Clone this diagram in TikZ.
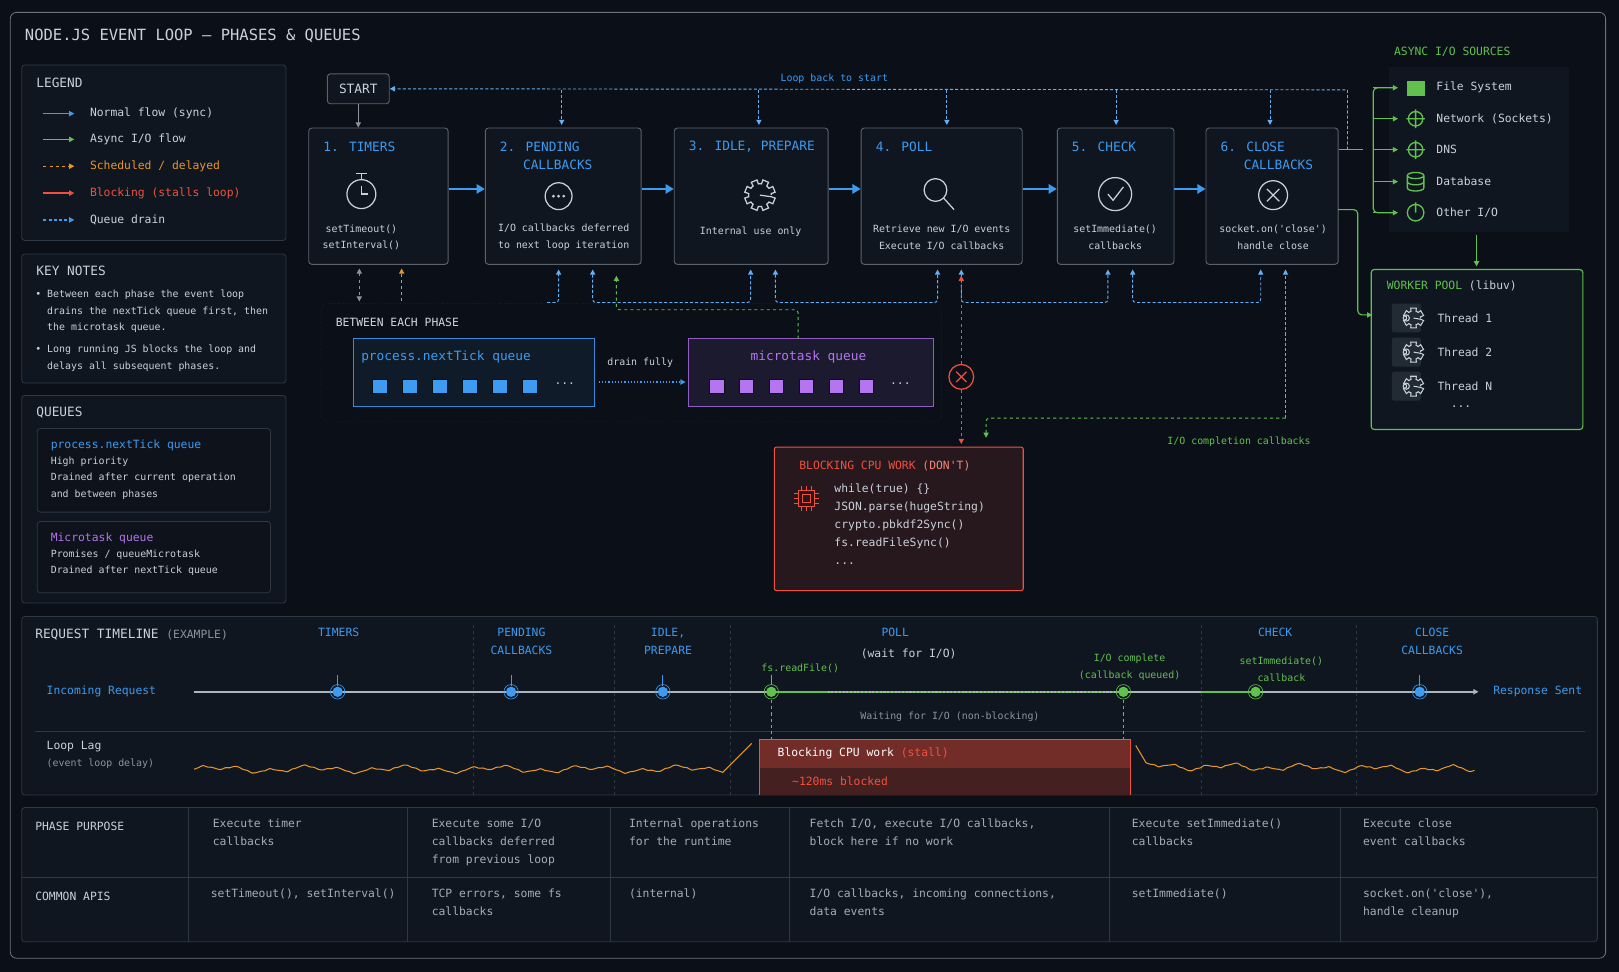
\documentclass[tikz,border=0pt]{standalone}
\usepackage{fontspec}
\setmainfont{DejaVu Sans Mono}
\usetikzlibrary{arrows.meta,positioning}
\definecolor{bg}{HTML}{0B1018}
\definecolor{panel}{HTML}{0F1620}
\definecolor{edge}{HTML}{2E3742}
\definecolor{pedge}{HTML}{5A626C}
\definecolor{txt}{HTML}{C9D1D9}
\definecolor{dim}{HTML}{8B949E}
\definecolor{blu}{HTML}{3D9BF0}
\definecolor{grn}{HTML}{62C04E}
\definecolor{org}{HTML}{E8962A}
\definecolor{rd}{HTML}{F0513E}
\definecolor{pur}{HTML}{B574F0}
\newcommand{\fa}{\fontsize{9.6}{16}\selectfont}
\newcommand{\fb}{\fontsize{11}{17.5}\selectfont}
\newcommand{\fc}{\fontsize{12.4}{18}\selectfont}
\newcommand{\ft}{\fontsize{15}{18}\selectfont}
\newcommand{\q}{\textquotesingle}
\tikzset{
  t/.style={anchor=west,inner sep=0pt,text=txt,font=\fb},
  tc/.style={inner sep=0pt,text=txt,font=\fa,align=center},
  box/.style={draw=edge,fill=panel,rounded corners=3pt,line width=0.8pt},
  phase/.style={draw=pedge,fill=panel,rounded corners=3pt,line width=0.9pt,
    minimum height=132pt},
  ptitle/.style={anchor=west,inner sep=0pt,text=blu,font=\fc,align=left},
  flow/.style={blu,line width=2.5pt,-{Triangle[length=8pt,width=9pt]}},
  drain/.style={blu!80!white,dashed,line width=0.9pt,dash pattern=on 3pt off 2pt},
  tip/.style={-{Triangle[length=5pt,width=5pt]}},
  icon/.style={txt,line width=1.2pt},
  sq/.style={minimum size=14pt,inner sep=0pt,draw=bg,line width=0.6pt},
  gicon/.style={grn,line width=1.3pt}
}
\begin{document}
\begin{tikzpicture}[x=1pt,y=-1pt]
\fill[bg] (0,0) rectangle (1568,941);
\useasboundingbox (0,0) rectangle (1568,941);
\draw[edge!70,rounded corners=6pt,line width=0.8pt] (10,12) rectangle (1555,928);
\node[t,font=\ft] (title) at (24,35) {NODE.JS EVENT LOOP – PHASES \& QUEUES};

% legend
\draw[box] (21,63) rectangle (277,233);
\node[t,font=\fc] (leg) at (35,80) {LEGEND};
\draw[blu,line width=1.2pt,tip] (42,110) -- (72,110);
\node[t] at (87,110) {Normal flow (sync)};
\draw[grn,line width=1.2pt,tip] (42,135) -- (72,135);
\node[t] at (87,135) {Async I/O flow};
\draw[org,line width=1.2pt,dashed,tip] (42,161) -- (72,161);
\node[t,text=org] at (87,161) {Scheduled / delayed};
\draw[rd,line width=1.2pt,tip] (42,187) -- (72,187);
\node[t,text=rd] at (87,187) {Blocking (stalls loop)};
\draw[blu,line width=1.2pt,dash pattern=on 3pt off 2pt,tip] (42,213) -- (72,213);
\node[t] at (87,213) {Queue drain};

% key notes
\draw[box] (21,246) rectangle (277,371);
\node[t,font=\fc] at (35,262) {KEY NOTES};
\node[t,font=\fa,anchor=north west,align=left] at (34,281) {• Between each phase the event loop\\\ \ drains the nextTick queue first, then\\\ \ the microtask queue.};
\node[t,font=\fa,anchor=north west,align=left] at (34,334) {• Long running JS blocks the loop and\\\ \ delays all subsequent phases.};

% queues
\draw[box] (21,383) rectangle (277,584);
\node[t,font=\fc] at (35,400) {QUEUES};
\draw[box,fill=bg!60!panel] (36,415) rectangle (262,496);
\node[t,text=blu] at (49,431) {process.nextTick queue};
\node[t,font=\fa,anchor=north west,align=left] at (49,442) {High priority\\Drained after current operation\\and between phases};
\draw[box,fill=bg!60!panel] (36,505) rectangle (262,574);
\node[t,text=pur] at (49,521) {Microtask queue};
\node[t,font=\fa,anchor=north west,align=left] at (49,532) {Promises / queueMicrotask\\Drained after nextTick queue};

% phases
\node[draw=pedge,fill=panel,rounded corners=3pt,line width=0.9pt,text=txt,font=\fc,
  minimum width=60pt,minimum height=29pt] (start) at (347,86) {START};
\node[phase,minimum width=135pt] (p1) at (366.5,190) {};
\node[phase,minimum width=151pt] (p2) at (545.5,190) {};
\node[phase,minimum width=149pt] (p3) at (727.5,190) {};
\node[phase,minimum width=156pt] (p4) at (912,190) {};
\node[phase,minimum width=113pt] (p5) at (1080.5,190) {};
\node[phase,minimum width=128pt] (p6) at (1232,190) {};
\node[ptitle] at (313,142) {1. TIMERS};
\node[ptitle,anchor=north west] at (484,137) {2. PENDING\\\ \ \ CALLBACKS};
\node[ptitle] at (667,142) {3. IDLE, PREPARE};
\node[ptitle] at (848,142) {4. POLL};
\node[ptitle] at (1038,142) {5. CHECK};
\node[ptitle,anchor=north west] at (1182,137) {6. CLOSE\\\ \ \ CALLBACKS};
\node[tc] at (350,230) {setTimeout()\\setInterval()};
\node[tc] at (546,230) {I/O callbacks deferred\\to next loop iteration};
\node[tc] at (727,224) {Internal use only};
\node[tc] at (912,230) {Retrieve new I/O events\\Execute I/O callbacks};
\node[tc] at (1080,230) {setImmediate()\\callbacks};
\node[tc] at (1233,230) {socket.on(\q close\q)\\handle close};
% icons
\draw[icon] (350,188) circle (14pt);
\draw[icon] (350,174) -- (350,169) (345,168) -- (355,168) (350,188) -- (350,180) (350,188) -- (356,188);
\draw[icon] (541,190) circle (13pt);
\foreach \dx in {-5,0,5} \fill[txt] (541+\dx,190) circle (1.5pt);
\draw[icon] (725,189) ++(0:11)
  \foreach \a in {0,45,...,315} {-- +(\a+8:11) -- +(\a+11:15) -- +(\a+34:15) -- +(\a+37:11) -- +(\a+45:11)};
\draw[icon] (906,184) circle (11pt) (914,192) -- (924,203);
\draw[icon] (1080,188) circle (16pt) (1073,188) -- (1078,194) -- (1088,181);
\draw[icon] (1233,189) circle (14pt) (1227,183) -- (1239,195) (1239,183) -- (1227,195);
% flow arrows
\foreach \a/\b in {p1/p2,p2/p3,p3/p4,p4/p5,p5/p6}
  \draw[flow] ([yshift=7pt]\a.east) -- ([yshift=7pt]\b.west);
\draw[dim,line width=0.9pt,tip] (start.south) -- (p1.north -| start.south);
% loop back
\draw[drain,tip] (1305,145) -- (1305,87) -- (start.east);
\node[t,text=blu,font=\fa,anchor=center] at (808,76) {Loop back to start};
\foreach \x in {544,735,917,1081,1230} \draw[drain,tip] (\x,87) -- (\x,121);

% between each phase
\draw[edge,dotted,rounded corners=6pt] (311,294) rectangle (912,408);
\node[t,text=txt!85] at (325,312) {BETWEEN EACH PHASE};
\draw[blu!90!black,line width=1pt,fill=blu!8!bg] (342,328) rectangle (576,394);
\node[t,text=blu,font=\fc,anchor=center] (nt) at (432,346) {process.nextTick queue};
\foreach \x in {368,397,...,513} \node[sq,fill=blu] at (\x,374) {};
\node[t,anchor=center] at (547,372) {...};
\draw[pur!80!black,line width=1pt,fill=pur!10!bg] (667,328) rectangle (904,394);
\node[t,text=pur,font=\fc,anchor=center] (mt) at (783,346) {microtask queue};
\foreach \x in {694,723,...,839} \node[sq,fill=pur] at (\x,374) {};
\node[t,anchor=center] at (872,372) {...};
\node[t,font=\fa,anchor=center] at (620,351) {drain fully};
\draw[blu,line width=1.1pt,dotted,tip] (580,370) -- (664,370);

% connectors to phases
\draw[dim,dashed,line width=0.9pt,{Triangle[length=5pt,width=5pt]}-{Triangle[length=5pt,width=5pt]}] (348,260) -- (348,292);
\draw[org,dashed,line width=0.9pt,tip] (389,292) -- (389,260);
\draw[drain,tip,rounded corners=3pt] (530,293) -- (541,293) -- (541,261);
\foreach \l/\r in {574/727,751/908,931/1073,1097/1221}
  \draw[drain,rounded corners=3pt,{Triangle[length=5pt,width=5pt]}-{Triangle[length=5pt,width=5pt]}] (\l,261) -- (\l,293) -- (\r,293) -- (\r,261);
\draw[grn,dashed,line width=0.9pt,tip,rounded corners=3pt] (773,328) -- (773,300) -- (597,300) -- (597,267);
\draw[drain,tip] (1245,405) -- (1245,261);
\draw[grn,dashed,line width=0.9pt,tip,rounded corners=3pt] (1245,405) -- (955,405) -- (955,424);
\node[t,text=grn,font=\fa,anchor=center] at (1200,428) {I/O completion callbacks};

% blocking
\draw[rd,line width=1pt,fill=rd!12!bg,rounded corners=2pt] (750,433) rectangle (991,572);
\node[draw=rd,fill=bg,circle,line width=1.2pt,minimum size=24pt,inner sep=0pt] (stop) at (931,365) {};
\draw[rd,line width=1.2pt] (926,360) -- (936,370) (936,360) -- (926,370);
\draw[rd,dashed,line width=0.9pt,tip] (stop.north) -- (931,267);
\draw[rd,dashed,line width=0.9pt,tip] (stop.south) -- (931,430);
\node[t,text=rd,font=\fb] at (774,451) {BLOCKING CPU WORK \textcolor{rd!70!white}{(DON\q T)}};
\draw[rd,line width=1pt] (773,475) rectangle (789,491) (777,479) rectangle (785,487);
\foreach \d in {3,8,13} \draw[rd,line width=0.8pt] (773+\d,471) -- (773+\d,475) (773+\d,491) -- (773+\d,495) (769,475+\d) -- (773,475+\d) (789,475+\d) -- (793,475+\d);
\node[t,font=\fb,anchor=north west,align=left] at (808,468) {while(true) \{\}\\JSON.parse(hugeString)\\crypto.pbkdf2Sync()\\fs.readFileSync()\\...};

% async sources
\node[t,text=grn,font=\fb] at (1350,50) {ASYNC I/O SOURCES};
\fill[panel] (1345,65) rectangle (1520,225);
\draw[grn,line width=1.1pt] (p6.east |- 0,145) -- (1320,145);
\draw[grn,line width=1.1pt,rounded corners=4pt] (1352,85) -- (1330,85) -- (1330,206) -- (1352,206);
\foreach \y/\s in {85/{File System},115/{Network (Sockets)},145/{DNS},176/{Database},206/{Other I/O}}{
  \draw[grn,line width=1.1pt,tip] (1330,\y) -- (1354,\y);
  \node[t] at (1391,\y) {\s};}
\fill[grn] (1363,78) rectangle (1380,93);
\draw[gicon] (1371,115) circle (7pt) (1362,115) -- (1380,115) (1371,106) -- (1371,124);
\draw[gicon] (1371,145) circle (7pt) (1362,145) -- (1380,145) (1371,136) -- (1371,154);
\draw[gicon] (1371,170) ellipse (8pt and 3pt) (1363,170) -- (1363,182) (1379,170) -- (1379,182);
\draw[gicon] (1363,176) arc (180:360:8pt and 3pt) (1363,182) arc (180:360:8pt and 3pt);
\draw[gicon] (1371,206) circle (8pt) (1371,196) -- (1371,206);

% worker pool
\draw[grn,line width=1.1pt,tip] (1430,228) -- (1430,258);
\draw[grn,line width=1.1pt,fill=panel,rounded corners=3pt] (1328,261) rectangle (1533,416);
\node[t,text=grn] at (1343,277) {WORKER POOL \textcolor{txt}{(libuv)}};
\draw[grn,line width=1.1pt,rounded corners=4pt,tip] (1296,203) -- (1315,203) -- (1315,305) -- (1329,305);
\foreach \y/\s in {308/Thread 1,341/Thread 2,374/Thread N}{
  \fill[edge!60!panel,rounded corners=2pt] (1348,\y-14) rectangle (1376,\y+14);
  \draw[icon,line width=1pt] (1362,\y) circle (3pt);
  \draw[icon,line width=1pt] (1362,\y) ++(0:7)
    \foreach \a in {0,60,...,300} {-- +(\a+10:7) -- +(\a+14:10) -- +(\a+46:10) -- +(\a+50:7) -- +(\a+60:7)};
  \node[t] at (1392,\y) {\s};}
\node[t,anchor=center] at (1415,394) {...};

% timeline
\draw[box] (21,597) rectangle (1547,770);
\node[t,font=\fc] at (34,615) {REQUEST TIMELINE \textcolor{dim}{\fb(EXAMPLE)}};
\foreach \x in {458,595,707,1163,1314} \draw[edge,dashed,line width=0.6pt] (\x,605) -- (\x,770);
\draw[edge,line width=0.8pt] (34,708) -- (1535,708);
\foreach \x/\s in {328/TIMERS,505/PENDING\\CALLBACKS,647/IDLE\textup{,}\\PREPARE,867/POLL,1235/CHECK,1387/CLOSE\\CALLBACKS}
  \node[tc,text=blu,font=\fb,anchor=north] at (\x,608) {\s};
\node[tc,font=\fb] at (880,633) {(wait for I/O)};
\node[t,text=blu] at (45,670) {Incoming Request};
\node[t,text=blu] at (1446,670) {Response Sent};
\draw[dim!70,line width=1.6pt,tip] (188,670) -- (1432,670);
\draw[grn,line width=1.6pt] (747,670) -- (800,670);
\draw[grn,line width=1.6pt,dotted] (800,670) -- (1088,670);
\draw[grn,line width=1.6pt] (1163,670) -- (1216,670);
\foreach \x in {327,495,642,1375}{
  \draw[blu,line width=0.8pt] (\x,654) -- (\x,664);
  \fill[blu] (\x,670) circle (5pt); \draw[blu,line width=0.6pt] (\x,670) circle (7pt);}
\foreach \x in {747,1088,1216}{
  \fill[grn] (\x,670) circle (5pt); \draw[grn,line width=0.6pt] (\x,670) circle (7pt);}
\draw[grn,line width=0.8pt] (747,654) -- (747,663);
\node[tc,text=grn] at (775,647) {fs.readFile()};
\node[tc,text=grn] at (1094,646) {I/O complete\\(callback queued)};
\node[tc,text=grn] at (1241,648) {setImmediate()\\callback};
\draw[grn,dashed,line width=0.7pt] (747,678) -- (747,716) (1088,678) -- (1088,716);
\node[tc,text=dim] at (920,694) {Waiting for I/O (non-blocking)};
\node[t] at (45,723) {Loop Lag};
\node[t,font=\fa,text=dim] at (45,740) {(event loop delay)};
\fill[rd!25!bg] (736,716) rectangle (1095,770);
\fill[rd!45!bg] (736,716) rectangle (1095,744);
\draw[rd,line width=1pt] (736,770) -- (736,716) -- (1095,716) -- (1095,770);
\node[t,text=white] at (753,730) {Blocking CPU work \textcolor{rd}{(stall)}};
\node[t,text=rd] at (767,757) {\textasciitilde120ms blocked};
\draw[org,line width=1pt] plot[smooth,domain=188:700,samples=120] (\x,{745-2*sin(4*(\x-188))-2.5*sin(11*(\x-188))^3}) -- (728,720);
\draw[org,line width=1pt] (1100,722) -- plot[smooth,domain=1110:1428,samples=80] (\x,{742+0.01*(\x-1110)-2*sin(5*(\x-1100))-2.5*sin(12*(\x-1100))^3});

% table
\draw[box] (21,782) rectangle (1547,912);
\draw[edge,line width=0.8pt] (21,850) -- (1547,850);
\foreach \x in {182,395,591,765,1074,1298} \draw[edge,line width=0.8pt] (\x,782) -- (\x,912);
\node[t] at (34,800) {PHASE PURPOSE};
\node[t] at (34,868) {COMMON APIS};
\foreach \x/\s in {206/{Execute timer\\callbacks},418/{Execute some I/O\\callbacks deferred\\from previous loop},609/{Internal operations\\for the runtime},784/{Fetch I/O, execute I/O callbacks,\\block here if no work},1096/{Execute setImmediate()\\callbacks},1320/{Execute close\\event callbacks}}
  \node[t,text=dim!60!txt,anchor=north west,align=left] at (\x,793) {\s};
\foreach \x/\s in {204/{setTimeout(), setInterval()},418/{TCP errors, some fs\\callbacks},609/{(internal)},784/{I/O callbacks, incoming connections,\\data events},1096/{setImmediate()},1320/{socket.on(\q close\q),\\handle cleanup}}
  \node[t,text=dim!60!txt,anchor=north west,align=left] at (\x,861) {\s};
\end{tikzpicture}
\end{document}
